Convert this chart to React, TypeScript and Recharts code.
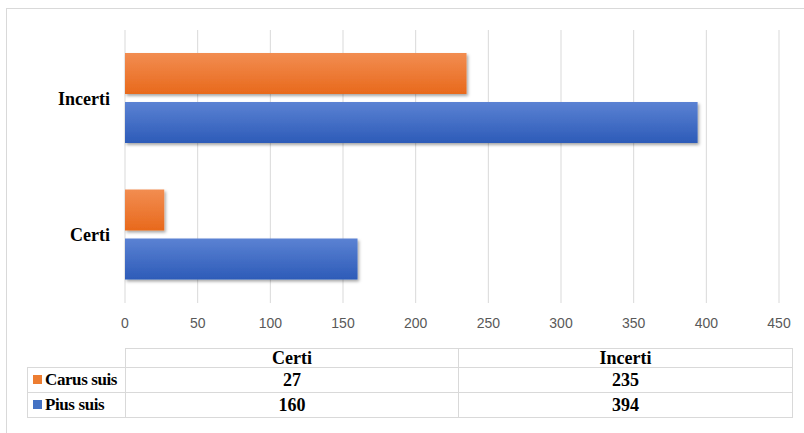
import { Bar, BarChart, CartesianGrid, XAxis, YAxis } from "recharts";

const categories = ["Certi", "Incerti"];
const carusSuis = [27, 235];
const piusSuis = [160, 394];
const xTicks = [0, 50, 100, 150, 200, 250, 300, 350, 400, 450];

const series = [
	{ key: "carus", name: "Carus suis", values: carusSuis, color: "#ED7D31", grad: "gradOrange" },
	{ key: "pius", name: "Pius suis", values: piusSuis, color: "#4472C4", grad: "gradBlue" },
];

const data = categories.map((name, i) => ({
	name,
	carus: carusSuis[i],
	pius: piusSuis[i],
}));

const serif = "Liberation Serif, Tinos, Times New Roman, DejaVu Serif, serif";
const cellBorder = "1px solid #d9d9d9";

export default function App() {
	return (
		<div
			style={{
				position: "fixed",
				left: 0,
				top: 0,
				width: 804,
				height: 433,
				background: "#fff",
				overflow: "hidden",
			}}
		>
			<div
				style={{
					position: "absolute",
					left: 6,
					top: 8,
					width: 840,
					height: 460,
					border: "1px solid #d9d9d9",
				}}
			/>
			<div style={{ position: "absolute", left: 0, top: 0 }}>
				<BarChart
					width={804}
					height={433}
					data={data}
					layout="vertical"
					margin={{ top: 30, right: 25, bottom: 100, left: 0 }}
					barSize={41}
					barGap={8}
				>
					<defs>
						<linearGradient id="gradOrange" x1="0" y1="0" x2="0" y2="1">
							<stop offset="0%" stopColor="#F28D51" />
							<stop offset="100%" stopColor="#E8691C" />
						</linearGradient>
						<linearGradient id="gradBlue" x1="0" y1="0" x2="0" y2="1">
							<stop offset="0%" stopColor="#5B82D3" />
							<stop offset="100%" stopColor="#2D5BB8" />
						</linearGradient>
						<filter id="shadow" x="-5%" y="-20%" width="115%" height="150%">
							<feDropShadow dx="1.5" dy="2" stdDeviation="1.5" floodColor="#000" floodOpacity="0.35" />
						</filter>
					</defs>
					<CartesianGrid horizontal={false} stroke="#d9d9d9" />
					<XAxis
						type="number"
						domain={[0, 450]}
						ticks={xTicks}
						interval={0}
						axisLine={false}
						tickLine={false}
						tickSize={0}
						tickMargin={15}
						height={30}
						tick={{ fill: "#595959", fontSize: 14, fontFamily: "Liberation Sans Narrow, Liberation Sans, Arial, sans-serif" }}
					/>
					<YAxis
						type="category"
						dataKey="name"
						reversed
						width={125}
						axisLine={false}
						tickLine={false}
						tickSize={0}
						tickMargin={15}
						tick={{ fill: "#000", fontSize: 18, fontWeight: "bold", fontFamily: serif }}
					/>
					{series.map((s) => (
						<Bar
							key={s.key}
							dataKey={s.key}
							name={s.name}
							fill={`url(#${s.grad})`}
							filter="url(#shadow)"
							isAnimationActive={false}
						/>
					))}
				</BarChart>
			</div>
			<table
				style={{
					position: "absolute",
					left: 27,
					top: 348,
					borderCollapse: "collapse",
					fontFamily: serif,
					fontWeight: "bold",
					fontSize: 18,
					color: "#000",
					tableLayout: "fixed",
				}}
			>
				<colgroup>
					<col style={{ width: 98 }} />
					<col style={{ width: 333 }} />
					<col style={{ width: 334 }} />
				</colgroup>
				<tbody>
					<tr style={{ height: 19 }}>
						<td style={{ borderRight: cellBorder, borderBottom: cellBorder, padding: 0 }} />
						{categories.map((c) => (
							<td key={c} style={{ border: cellBorder, textAlign: "center", padding: 0, lineHeight: "18px" }}>
								{c}
							</td>
						))}
					</tr>
					{series.map((s) => (
						<tr key={s.key} style={{ height: 25 }}>
							<td
								style={{
									border: cellBorder,
									padding: "0 0 0 5px",
									whiteSpace: "nowrap",
									lineHeight: "24px",
									fontSize: 17,
									letterSpacing: -0.4,
									overflow: "hidden",
								}}
							>
								<span
									style={{
										display: "inline-block",
										width: 9,
										height: 9,
										background: s.color,
										marginRight: 3,
										verticalAlign: "middle",
										position: "relative",
										top: -2,
									}}
								/>
								{s.name}
							</td>
							{s.values.map((v, i) => (
								<td key={i} style={{ border: cellBorder, textAlign: "center", padding: 0, lineHeight: "24px" }}>
									{v}
								</td>
							))}
						</tr>
					))}
				</tbody>
			</table>
		</div>
	);
}
